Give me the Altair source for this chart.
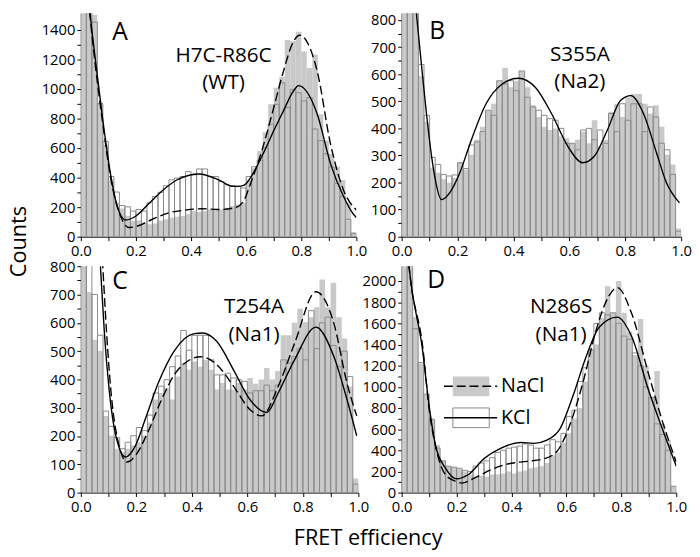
import altair as alt
import pandas as pd

FONT = "Open Sans"
BIN_W = 0.02

# ---------------- histogram counts (50 bins of 0.02) ----------------
A_NACL = [3000, 2500, 1500, 907, 620, 380, 229, 190, 140, 107,
          110, 96, 84, 89, 107, 118, 129, 135, 140, 151,
          173, 167, 173, 184, 180, 184, 196, 207, 218, 229,
          384, 462, 580, 706, 895, 1007, 1080, 1330, 1323, 1385,
          1252, 1140, 1229, 828, 650, 561, 472, 383, 229, 31]
A_KCL = [3000, 2500, 1450, 900, 644, 407, 302, 211, 202, 173,
         184, 173, 229, 273, 300, 344, 384, 396, 407, 440,
         418, 458, 458, 407, 407, 373, 351, 340, 340, 329,
         407, 473, 518, 600, 760, 895, 1040, 873, 996, 973,
         918, 940, 728, 650, 561, 472, 361, 272, 118, 20]

B_NACL = [2000, 1500, 1000, 594, 424, 255, 236, 212, 200, 218,
          275, 248, 303, 358, 406, 467, 491, 576, 624, 552,
          576, 612, 552, 485, 442, 406, 394, 400, 370, 364,
          345, 358, 388, 345, 430, 333, 358, 461, 491, 442,
          515, 527, 527, 491, 455, 485, 406, 303, 267, 30]
B_KCL = [2000, 1500, 1000, 636, 448, 293, 267, 230, 224, 228,
         273, 252, 339, 350, 388, 467, 448, 576, 564, 576,
         539, 612, 515, 479, 467, 448, 436, 430, 400, 345,
         345, 321, 394, 400, 358, 394, 345, 455, 388, 491,
         430, 491, 491, 388, 479, 442, 345, 321, 230, 20]

C_NACL = [2000, 709, 540, 500, 271, 201, 155, 143, 155, 166,
          178, 201, 248, 329, 352, 370, 329, 410, 457, 434,
          463, 445, 469, 434, 364, 387, 364, 364, 387, 364,
          405, 385, 400, 440, 400, 430, 556, 556, 600, 650,
          602, 620, 655, 753, 655, 742, 620, 545, 375, 50]
C_KCL = [2000, 900, 700, 556, 288, 234, 195, 155, 178, 201,
         230, 219, 274, 352, 376, 399, 445, 483, 573, 503,
         556, 556, 556, 469, 416, 416, 422, 405, 399, 393,
         352, 360, 360, 380, 360, 380, 469, 457, 480, 510,
         469, 643, 509, 600, 620, 520, 445, 500, 410, 30]

D_NACL = [3000, 2500, 1660, 1220, 930, 700, 450, 300, 250, 240,
          220, 200, 170, 150, 160, 150, 170, 170, 180, 200,
          180, 200, 210, 230, 240, 250, 280, 350, 380, 470,
          560, 700, 800, 1050, 1350, 1400, 1650, 1950, 1700, 2000,
          1700, 1520, 1300, 1640, 1200, 900, 1150, 650, 500, 60]
D_KCL = [3000, 2500, 1550, 1230, 930, 690, 420, 300, 250, 240,
         230, 210, 200, 250, 280, 300, 330, 380, 400, 420,
         430, 440, 460, 450, 420, 420, 450, 500, 480, 560,
         720, 780, 1050, 1180, 1350, 1600, 1700, 1680, 1700, 1600,
         1480, 1450, 1320, 1200, 1000, 900, 650, 550, 400, 60]

# ---------------- fitted curves ----------------
A_FIT_KCL_X = [0.0, 0.034, 0.05, 0.079, 0.11, 0.133, 0.163, 0.20, 0.25, 0.30, 0.35, 0.43, 0.50,
               0.545, 0.57, 0.593, 0.616, 0.641, 0.664, 0.70, 0.735, 0.771, 0.79, 0.858, 0.906,
               0.953, 0.99, 1.0]
A_FIT_KCL_Y = [2300, 1500, 1240, 800, 400, 200, 113, 140, 230, 318, 385, 424, 384,
               343, 340, 349, 400, 483, 570, 716, 850, 983, 1021, 828, 494,
               273, 150, 130]
A_FIT_NACL_X = [0.0, 0.034, 0.05, 0.08, 0.11, 0.14, 0.175, 0.20, 0.26, 0.32, 0.38, 0.44, 0.50,
                0.56, 0.593, 0.616, 0.64, 0.664, 0.70, 0.735, 0.771, 0.794, 0.858, 0.906, 0.953, 1.0]
A_FIT_NACL_Y = [2300, 1480, 1200, 760, 380, 160, 62, 69, 118, 162, 180, 189, 184,
                196, 249, 360, 483, 627, 872, 1117, 1317, 1362, 1117, 627, 316, 180]

B_FIT_X = [0.0, 0.055, 0.073, 0.09, 0.114, 0.143, 0.173, 0.208, 0.243, 0.302, 0.36, 0.417,
           0.478, 0.536, 0.595, 0.648, 0.689, 0.736, 0.783, 0.82, 0.865, 0.912, 0.947, 0.994]
B_FIT_Y = [1500, 800, 612, 442, 248, 137, 164, 236, 339, 491, 564, 585,
           552, 455, 333, 273, 297, 394, 503, 521, 455, 309, 200, 125]

C_FIT_KCL_X = [0.03, 0.0707, 0.085, 0.102, 0.126, 0.161, 0.197, 0.232, 0.279, 0.338, 0.409, 0.438,
               0.491, 0.55, 0.609, 0.67, 0.711, 0.77, 0.847, 0.912, 0.959, 0.994]
C_FIT_KCL_Y = [1500, 800, 562, 364, 201, 126, 166, 259, 387, 503, 562, 564,
               533, 434, 329, 283, 352, 469, 585, 480, 329, 201]
C_FIT_NACL_X = [0.03, 0.079, 0.093, 0.108, 0.132, 0.167, 0.197, 0.244, 0.291, 0.35, 0.432, 0.491,
                0.55, 0.609, 0.652, 0.711, 0.77, 0.847, 0.912, 0.959, 0.994]
C_FIT_NACL_Y = [1500, 800, 562, 364, 190, 108, 131, 219, 329, 434, 480, 451,
                376, 294, 271, 375, 527, 710, 597, 387, 271]

D_FIT_KCL_X = [0.0, 0.028, 0.076, 0.1, 0.123, 0.159, 0.2, 0.243, 0.302, 0.36, 0.433, 0.481,
               0.529, 0.577, 0.624, 0.672, 0.72, 0.785, 0.838, 0.898, 0.958, 1.0]
D_FIT_KCL_Y = [3000, 2108, 1349, 822, 450, 233, 130, 171, 326, 419, 474, 465,
               496, 605, 915, 1287, 1566, 1659, 1473, 977, 543, 250]
D_FIT_NACL_X = [0.0, 0.028, 0.078, 0.1, 0.125, 0.159, 0.195, 0.219, 0.266, 0.326, 0.386, 0.457,
                0.517, 0.565, 0.612, 0.66, 0.708, 0.755, 0.785, 0.838, 0.898, 0.958, 1.0]
D_FIT_NACL_Y = [3000, 2108, 1349, 790, 418, 171, 109, 90, 140, 217, 270, 295,
                319, 388, 636, 1039, 1535, 1860, 1938, 1690, 1132, 605, 290]

PANEL_LETTERS = ["A", "B", "C", "D"]
PANEL_NAMES = ["H7C-R86C\n(WT)", "S355A\n(Na2)", "T254A\n(Na1)", "N286S\n(Na1)"]
LEGEND_LABELS = ["NaCl", "KCl"]
Y_TITLE = "Counts"
X_TITLE = "FRET efficiency"

GRAY = "#c9c9c9"
EDGE = "#8a8a8a"
DASH = [9, 4]


def bars_df(counts):
    return pd.DataFrame({
        "x0": [round(k * BIN_W, 2) for k in range(len(counts))],
        "x1": [round((k + 1) * BIN_W, 2) for k in range(len(counts))],
        "n": counts,
    })


def text_layer(t, x, y, **kw):
    return alt.Chart(pd.DataFrame({"t": [t]})).mark_text(
        font=FONT, color="black", **kw).encode(text="t:N", x=alt.value(x), y=alt.value(y))


def panel(nacl, kcl, fits, ymax, ylab_step, label_max, width, height,
          letter, name, letter_pos, name_pos, extras=()):
    xs = alt.Scale(domain=[0, 1], nice=False, zero=False)
    ys = alt.Scale(domain=[0, ymax], nice=False)
    xaxis = alt.Axis(values=[i / 10 for i in range(11)],
                     labelExpr="round(datum.value*10) % 2 == 0 ? format(datum.value, '.1f') : ''",
                     title=None, labelFlush=False, labelPadding=3)
    half = ylab_step // 2
    yaxis = alt.Axis(values=list(range(0, label_max + 1, half)),
                     labelExpr=f"datum.value % {ylab_step} == 0 ? format(datum.value, 'd') : ''",
                     title=None, labelFlush=False)

    def X(f):
        return alt.X(f, scale=xs, axis=xaxis)

    def Y(f):
        return alt.Y(f, scale=ys, axis=yaxis)

    gray = alt.Chart(bars_df(nacl)).mark_rect(clip=True, color=GRAY, strokeWidth=0).encode(
        x=X("x0:Q"), x2="x1:Q", y=Y("n:Q"), y2=alt.datum(0))
    outline = alt.Chart(bars_df(kcl)).mark_rect(
        clip=True, fillOpacity=0, stroke=EDGE, strokeWidth=1).encode(
        x=X("x0:Q"), x2="x1:Q", y=Y("n:Q"), y2=alt.datum(0))
    layers = [gray, outline]
    for fx, fy, dashed in fits:
        df = pd.DataFrame({"x": fx, "y": fy})
        kw = dict(clip=True, color="black", strokeWidth=1.4, interpolate="monotone")
        if dashed:
            kw["strokeDash"] = DASH
        layers.append(alt.Chart(df).mark_line(**kw).encode(x=X("x:Q"), y=Y("y:Q")))
    layers.append(text_layer(letter, letter_pos[0], letter_pos[1],
                             fontSize=25, align="left", baseline="alphabetic"))
    layers.append(text_layer(name, name_pos[0], name_pos[1], fontSize=21, align="center",
                             baseline="alphabetic", lineBreak="\n", lineHeight=28))
    layers.extend(extras)
    return alt.layer(*layers).properties(width=width, height=height)


one = pd.DataFrame({"k": [0]})

# shared axis titles as text
counts_title = text_layer(Y_TITLE, -56, 232, fontSize=22, angle=270, align="center",
                          baseline="alphabetic")
fret_title = text_layer(X_TITLE, 292, 283, fontSize=22, align="center", baseline="alphabetic")

# legend drawn in panel D
leg = [
    alt.Chart(one).mark_rect(color=GRAY).encode(
        x=alt.value(52), x2=alt.value(89), y=alt.value(112), y2=alt.value(132)),
    alt.Chart(one).mark_rule(color="black", strokeWidth=1.4, strokeDash=DASH).encode(
        x=alt.value(43), x2=alt.value(97), y=alt.value(122)),
    alt.Chart(one).mark_rect(fillOpacity=0, stroke=EDGE, strokeWidth=1).encode(
        x=alt.value(52), x2=alt.value(89), y=alt.value(144), y2=alt.value(164)),
    alt.Chart(one).mark_rule(color="black", strokeWidth=1.4).encode(
        x=alt.value(43), x2=alt.value(97), y=alt.value(154)),
    text_layer(LEGEND_LABELS[0], 101, 122, fontSize=20, align="left", baseline="middle"),
    text_layer(LEGEND_LABELS[1], 101, 154, fontSize=20, align="left", baseline="middle"),
]

pA = panel(A_NACL, A_KCL, [(A_FIT_NACL_X, A_FIT_NACL_Y, True), (A_FIT_KCL_X, A_FIT_KCL_Y, False)],
           1510, 200, 1400, 280, 227, PANEL_LETTERS[0], PANEL_NAMES[0], (32, 27), (145, 49),
           extras=[counts_title])
pB = panel(B_NACL, B_KCL, [(B_FIT_X, B_FIT_Y, False)],
           825, 100, 800, 284, 227, PANEL_LETTERS[1], PANEL_NAMES[1], (28, 26), (181, 48))
pC = panel(C_NACL, C_KCL, [(C_FIT_NACL_X, C_FIT_NACL_Y, True), (C_FIT_KCL_X, C_FIT_KCL_Y, False)],
           800, 100, 800, 282, 230, PANEL_LETTERS[2], PANEL_NAMES[2], (32, 23), (176, 48),
           extras=[fret_title])
pD = panel(D_NACL, D_KCL, [(D_FIT_NACL_X, D_FIT_NACL_Y, True), (D_FIT_KCL_X, D_FIT_KCL_Y, False)],
           2140, 200, 2000, 279, 230, PANEL_LETTERS[3], PANEL_NAMES[3], (26, 22), (162, 48),
           extras=leg)

chart = alt.concat(pA, pB, pC, pD, columns=2, bounds="flush",
                   spacing={"row": 30, "column": 44}).properties(
    padding={"left": 0, "top": 0, "right": 0, "bottom": 0}
).configure_view(stroke=None).configure_axis(
    labelFont=FONT, labelFontSize=15, labelColor="black", domainColor="black",
    tickColor="black", tickSize=4, labelPadding=2, grid=False, labelOverlap=False,
    domainWidth=1, tickWidth=1
)

chart.save("out.html", embed_options={"renderer": "svg", "actions": False})
